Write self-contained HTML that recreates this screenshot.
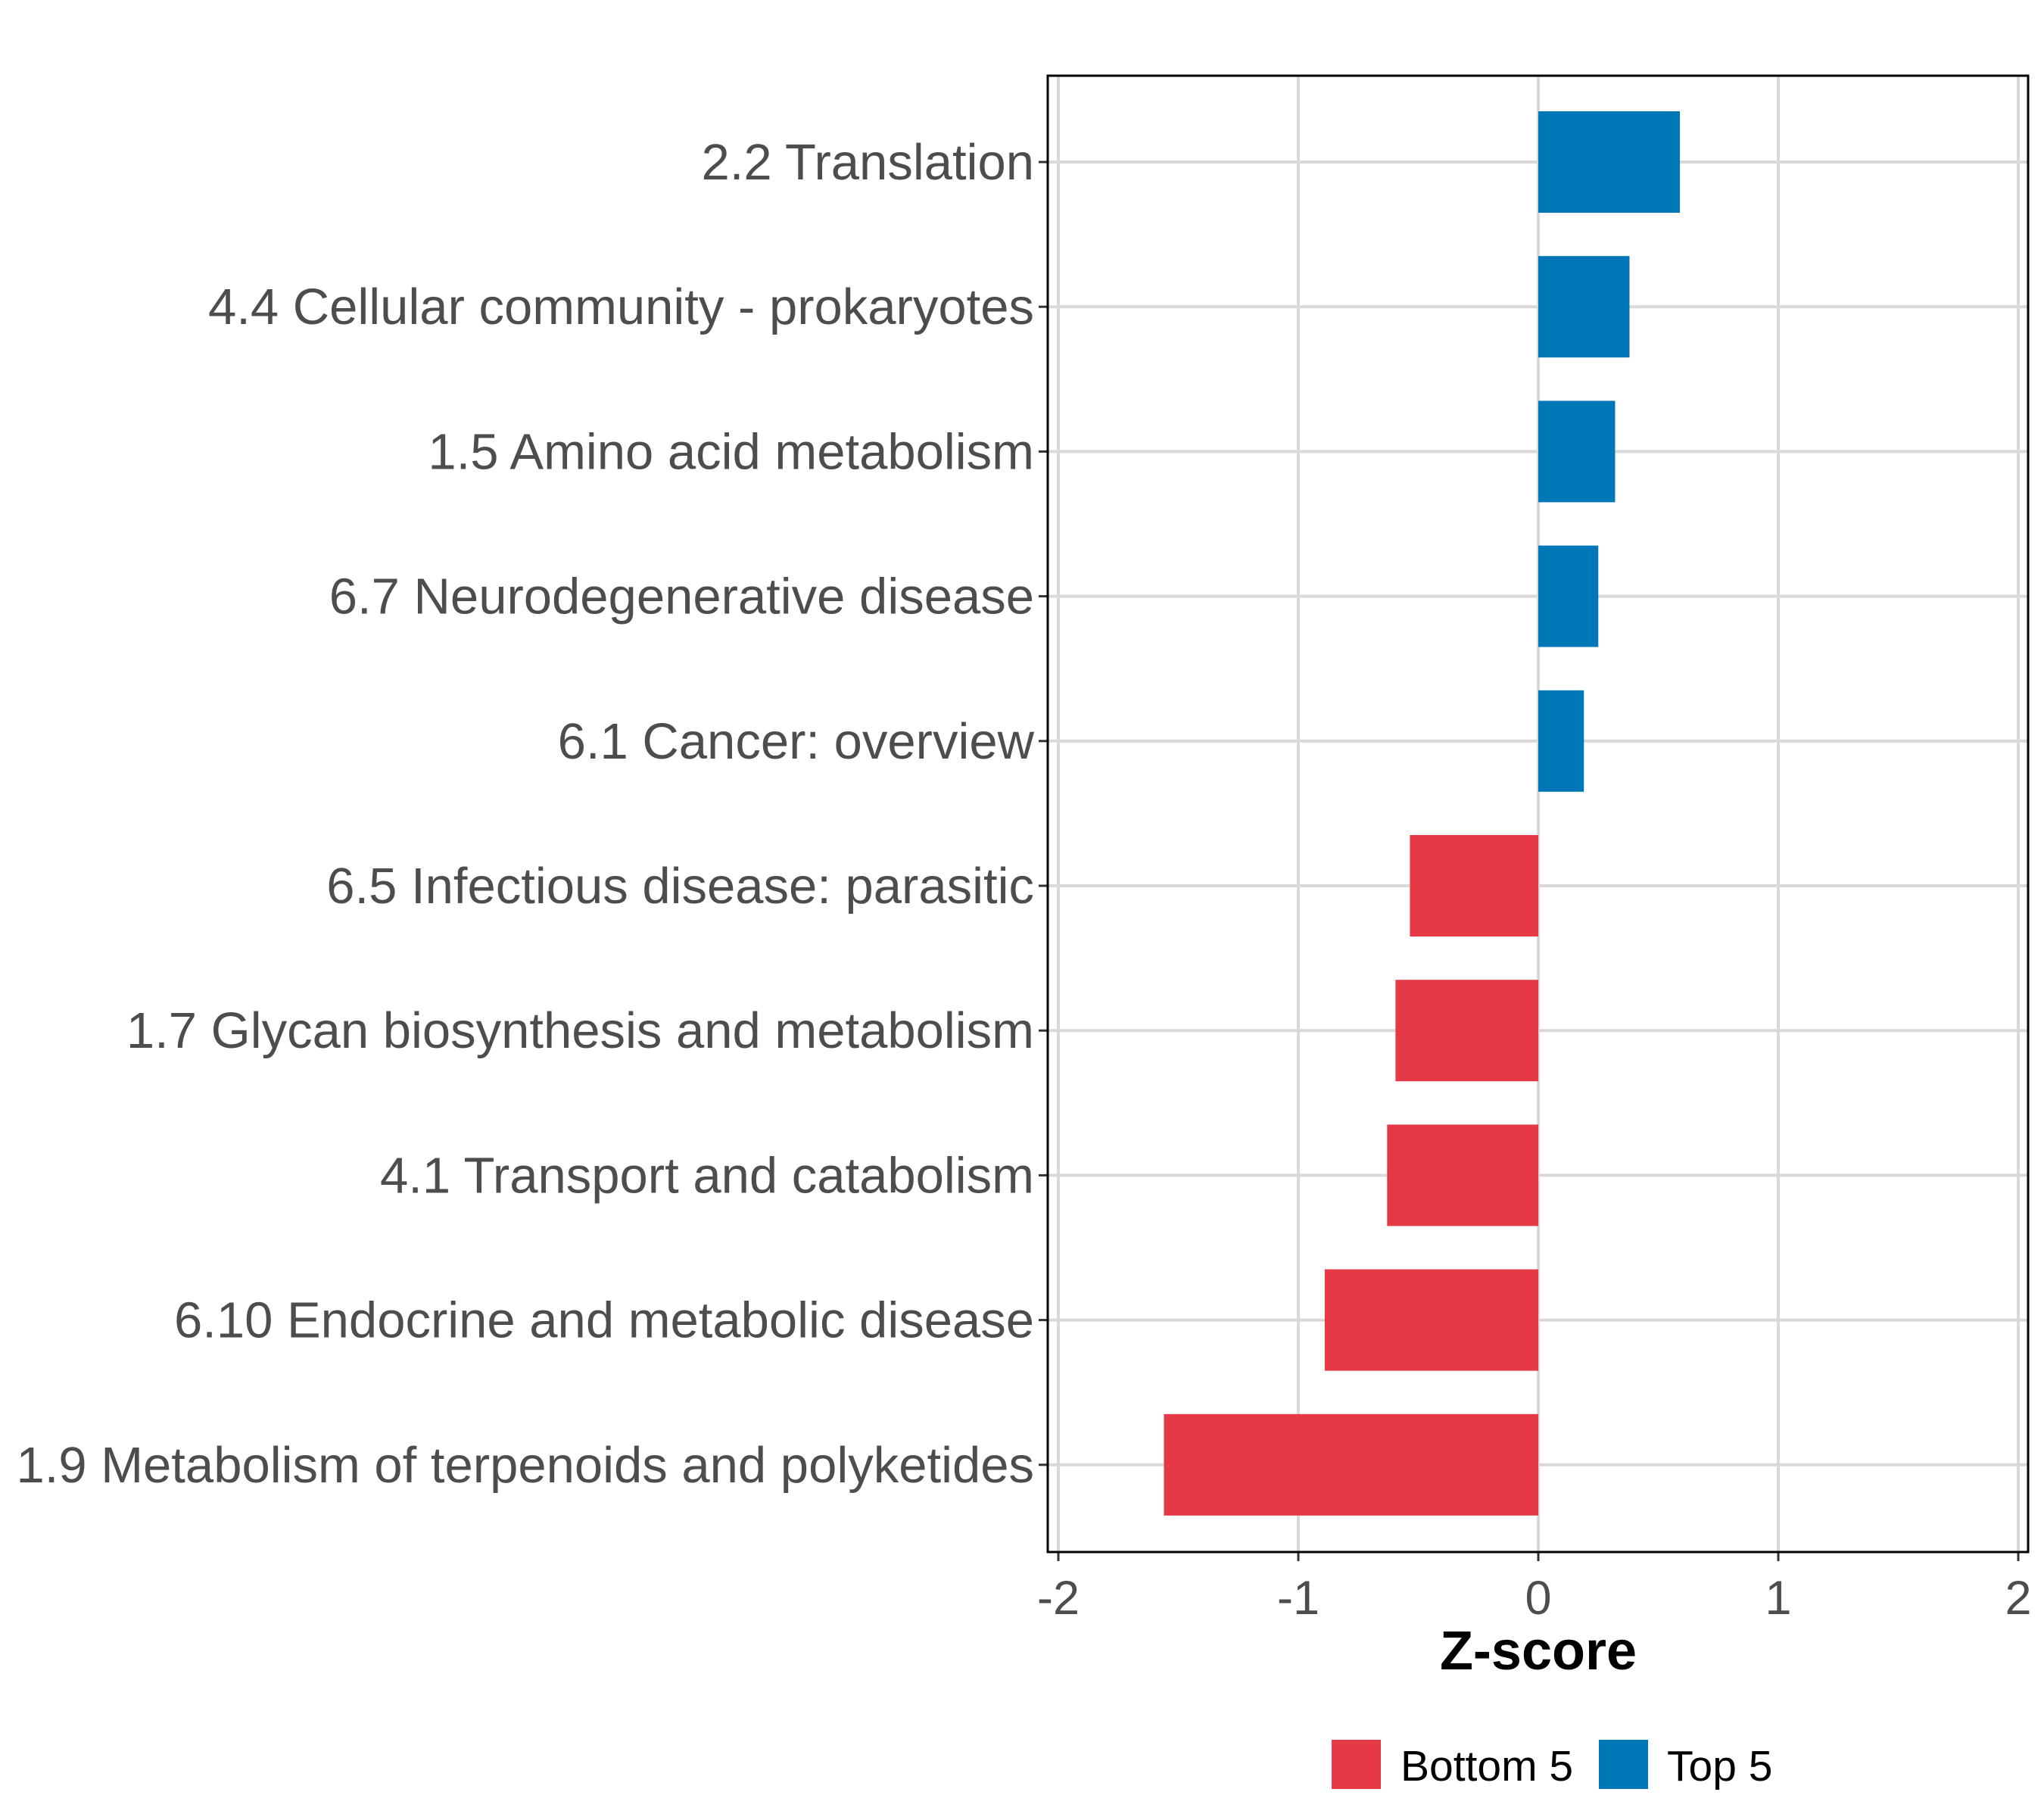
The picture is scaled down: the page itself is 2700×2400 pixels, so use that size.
<!DOCTYPE html>
<html><head><meta charset="utf-8"><style>
html,body{margin:0;padding:0;background:#fff;width:2700px;height:2400px;overflow:hidden}
text{font-family:"Liberation Sans",Arial,sans-serif}
</style></head><body>
<svg id="chart" width="2700" height="2400" xmlns="http://www.w3.org/2000/svg">
<rect width="2700" height="2400" fill="#fff"/>
<g id="grid"></g><g id="bars"></g><g id="axes"></g>
<text x="2032" y="2205" font-size="72" font-weight="bold" text-anchor="middle" fill="#000">Z-score</text>
<g>
<rect x="1759" y="2298" width="65" height="65" fill="#E63946"/>
<text x="1850" y="2352" font-size="57" fill="#000">Bottom 5</text>
<rect x="2112" y="2298" width="65" height="65" fill="#0077B6"/>
<text x="2202" y="2352" font-size="57" fill="#000">Top 5</text>
</g>
</svg>
<script>
const categories=["2.2 Translation","4.4 Cellular community - prokaryotes","1.5 Amino acid metabolism","6.7 Neurodegenerative disease","6.1 Cancer: overview","6.5 Infectious disease: parasitic","1.7 Glycan biosynthesis and metabolism","4.1 Transport and catabolism","6.10 Endocrine and metabolic disease","1.9 Metabolism of terpenoids and polyketides"];
const values=[0.59,0.38,0.32,0.25,0.19,-0.535,-0.595,-0.63,-0.89,-1.56];
const xTicks=[-2,-1,0,1,2];
const xTickLabels=["-2","-1","0","1","2"];
const NS="http://www.w3.org/2000/svg";
const L=1384,R=2679,T=100,B=2050;
const x0=2032,unit=317;
function xs(v){return x0+v*unit;}
const firstY=214,step=191.2;
function ys(i){return firstY+i*step;}
const barH=134;
function mk(tag,attrs,parent){const e=document.createElementNS(NS,tag);for(const k in attrs)e.setAttribute(k,attrs[k]);parent.appendChild(e);return e;}
const grid=document.getElementById('grid'),bars=document.getElementById('bars'),axes=document.getElementById('axes');
xTicks.forEach((t,i)=>{
 const g=mk('line',{x1:xs(t),x2:xs(t),y1:T,y2:B,stroke:'#d9d9d9','stroke-width':4},grid);
 
 
 const tk=mk('line',{x1:xs(t),x2:xs(t),y1:B,y2:B+12,stroke:'#333','stroke-width':3},axes);
 
 
 const tl=mk('text',{x:xs(t),y:2132,'font-size':63,'text-anchor':'middle',fill:'#4d4d4d'},axes);
 tl.textContent=xTickLabels[i];
 
 
});
categories.forEach((c,i)=>{
 const y=ys(i);
 const g=mk('line',{x1:L,x2:R,y1:y,y2:y,stroke:'#d9d9d9','stroke-width':4},grid);
 
 
 const v=values[i];
 const b=mk('rect',{x:Math.min(xs(0),xs(v)),y:y-barH/2,width:Math.abs(xs(v)-xs(0)),height:barH,fill:v>=0?'#0077B6':'#E63946'},bars);
 
 
 const tk=mk('line',{x1:L-12,x2:L,y1:y,y2:y,stroke:'#333','stroke-width':3},axes);
 
 
 const tl=mk('text',{x:L-18,y:y+23,'font-size':67,'text-anchor':'end',fill:'#4d4d4d'},axes);
 tl.textContent=c;
 
 
});
const fr=mk('rect',{x:L,y:T,width:R-L,height:B-T,fill:'none',stroke:'#000','stroke-width':3},axes);


</script>
</body></html>
